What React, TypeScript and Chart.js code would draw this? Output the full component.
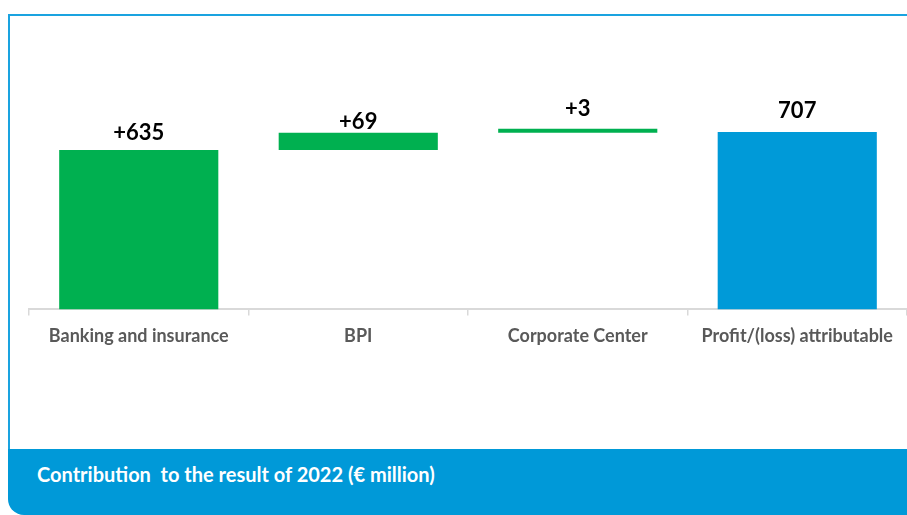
import React, { useEffect, useRef } from "react";
import { Chart, registerables } from "chart.js";

Chart.register(...registerables);

const categories = ["Banking and insurance", "BPI", "Corporate Center", "Profit/(loss) attributable"];
const values = [635, 69, 3, 707];
const isTotal = [false, false, false, true];
const valueLabels = ["+635", "+69", "+3", "707"];
const barColors = ["#00B050", "#00B050", "#00B050", "#009AD8"];
const labelOffsets = [17, 11, 20, 21];

const FONT = "Lato, 'Open Sans', sans-serif";

export default function App() {
  const ref = useRef<HTMLCanvasElement | null>(null);

  useEffect(() => {
    document.body.style.margin = "0";
    const canvas = ref.current;
    if (!canvas) return;

    let running = 0;
    const floating = values.map((v, i) => {
      if (isTotal[i]) return [0, v];
      const seg = [running, running + v];
      running += v;
      return seg;
    });

    const labelPlugin = {
      id: "valueLabels",
      afterDatasetsDraw(chart: any) {
        const ctx = chart.ctx;
        const meta = chart.getDatasetMeta(0);
        ctx.save();
        ctx.font = `bold 22px ${FONT}`;
        ctx.fillStyle = "#000000";
        ctx.textAlign = "center";
        ctx.textBaseline = "middle";
        meta.data.forEach((bar: any, i: number) => {
          const top = Math.min(bar.y, bar.base);
          ctx.fillText(valueLabels[i], bar.x, top - labelOffsets[i]);
        });
        ctx.restore();
      },
    };

    const chart = new Chart(canvas, {
      type: "bar",
      data: {
        labels: categories,
        datasets: [
          {
            data: floating as any,
            backgroundColor: barColors,
            borderWidth: 0,
            borderSkipped: false,
            minBarLength: 4,
            categoryPercentage: 1,
            barPercentage: 0.725,
          },
        ],
      },
      options: {
        responsive: false,
        animation: false,
        layout: { padding: { left: 29, right: 0, top: 56, bottom: 92 } },
        plugins: {
          legend: { display: false },
          tooltip: { enabled: false },
          title: { display: false },
        },
        scales: {
          x: {
            offset: true,
            grid: {
              offset: true,
              drawOnChartArea: false,
              drawTicks: true,
              tickLength: 6,
              color: "#D9D9D9",
              lineWidth: 1.5,
            },
            border: { display: true, color: "#D9D9D9", width: 2 },
            ticks: {
              color: "#595959",
              font: { family: FONT, size: 18, weight: "bold" },
              padding: 10,
              maxRotation: 0,
              autoSkip: false,
            },
          },
          y: {
            display: false,
            min: 0,
            max: 1010,
          },
        },
      },
      plugins: [labelPlugin],
    });

    return () => chart.destroy();
  }, []);

  return (
    <div style={{ position: "relative", width: 907, height: 515, overflow: "hidden", background: "#ffffff" }}>
      <div
        style={{
          position: "absolute",
          left: 8,
          top: 14,
          width: 907,
          height: 460,
          borderTop: "2px solid #1AA3E0",
          borderLeft: "2px solid #1AA3E0",
          boxSizing: "border-box",
        }}
      />
      <canvas
        ref={ref}
        width={907}
        height={449}
        style={{ position: "absolute", left: 0, top: 0, width: 907, height: 449 }}
      />
      <div
        style={{
          position: "absolute",
          left: 8,
          top: 449,
          width: 920,
          height: 66,
          background: "#0099D8",
          borderBottomLeftRadius: 16,
          color: "#ffffff",
          fontFamily: FONT,
          fontWeight: "bold",
          fontSize: 20,
          boxSizing: "border-box",
          paddingLeft: 29,
          display: "flex",
          alignItems: "center",
          paddingBottom: 16,
        }}
      >
        Contribution&nbsp; to the result of 2022 (€ million)
      </div>
    </div>
  );
}
